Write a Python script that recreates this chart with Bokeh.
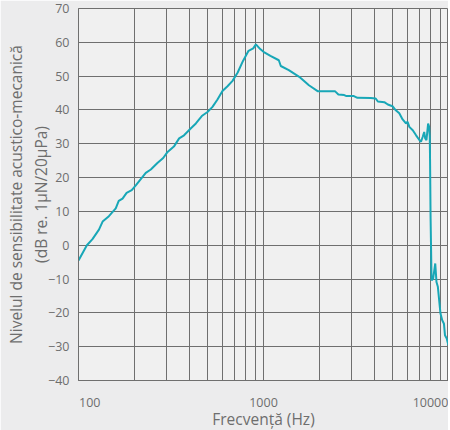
import math
from bokeh.plotting import figure
from bokeh.models import FixedTicker, LinearAxis, Range1d
from bokeh.embed import file_html
from bokeh.resources import INLINE

# ---- data ----
freq_hz = [100, 111, 119, 129, 135, 146, 159, 165, 173, 182, 194, 204, 231, 246, 267, 287,
           303, 329, 350, 372, 404, 431, 464, 498, 530, 564, 600, 639, 680, 724, 775, 830,
           880, 910, 960, 1000, 1090, 1210, 1240, 1370, 1560, 1760, 1970, 2440, 2540, 2730,
           2810, 3080, 3220, 3800, 4040, 4150, 4500, 4700, 4980, 5190, 5420, 5650, 5890,
           6010, 6140, 6410, 6680, 6960, 7100, 7250, 7390, 7480, 7600, 7760, 7860, 7920,
           7950, 8000, 8100, 8260, 8480, 8610, 8760, 9050, 9250, 9450, 9570, 9780, 9990]
level_db = [-4.5, 0.0, 1.8, 4.6, 7.0, 8.6, 10.9, 13.1, 13.8, 15.5, 16.3, 17.7, 21.4, 22.4, 24.3, 25.8,
            27.6, 29.3, 31.6, 32.5, 34.5, 36.0, 38.2, 39.4, 40.9, 43.1, 45.6, 47.0, 48.6, 51.0, 54.5, 57.5,
            58.2, 59.4, 58.0, 57.2, 56.0, 54.7, 53.0, 51.8, 49.8, 47.3, 45.5, 45.5, 44.6, 44.4,
            44.1, 44.1, 43.6, 43.5, 43.4, 42.5, 42.3, 41.6, 41.1, 39.9, 39.0, 37.2, 36.0,
            36.5, 35.0, 34.0, 32.5, 31.1, 30.6, 32.0, 33.5, 31.6, 31.1, 36.0, 35.0, 32.0,
            25.0, 8.4, -10.4, -9.9, -5.4, -10.9, -12.3, -20.2, -22.2, -23.2, -26.6, -27.6, -29.6]

x_ticks = [100, 1000, 10000]
x_tick_labels = ["100", "1000", "10000"]
x_grid_lines = [200, 300, 400, 500, 600, 700, 800, 900,
                1000, 2000, 3000, 4000, 5000, 6000, 7000, 8000, 9000]
y_ticks = [-40, -30, -20, -10, 0, 10, 20, 30, 40, 50, 60, 70]
x_title = "Frecvență (Hz)"
y_title_1 = "Nivelul de sensibilitate acustico-mecanică"
y_title_2 = "(dB re. 1μN/20μPa)"

X0, X1 = 100, 10000
Y0, Y1 = -40, 70
FRAME_W, FRAME_H = 370, 372

TEXT = "#6e6e6e"
GRID = "#6f6f6f"
FONT = "Open Sans"
TITLE_SIZE = "15.5px"
TICK_SIZE = "12.5px"

p = figure(x_axis_type="log", x_range=Range1d(X0, X1), y_range=Range1d(Y0, Y1),
           frame_width=FRAME_W, frame_height=FRAME_H,
           min_border_left=78, min_border_right=0, min_border_top=8, min_border_bottom=46,
           output_backend="svg", toolbar_location=None)

p.background_fill_color = "#f0f0f0"
p.border_fill_color = "#ececed"
p.outline_line_color = GRID
p.outline_line_width = 1

# edge labels of the reference are pulled inside the plot edges: shift them by pixels
px_per_decade = FRAME_W / math.log10(X1 / X0)
label_shift_px = [11, 0, -18]
label_pos = [int(round(t * 10 ** (s / px_per_decade))) for t, s in zip(x_ticks, label_shift_px)]

p.xaxis.ticker = FixedTicker(ticks=label_pos)
p.xaxis.major_label_overrides = {pos: lab for pos, lab in zip(label_pos, x_tick_labels)}
p.xgrid.ticker = FixedTicker(ticks=x_grid_lines)
p.xaxis.major_label_text_font = FONT
p.xaxis.major_label_text_font_size = TICK_SIZE
p.xaxis.major_label_text_color = TEXT
p.xaxis.major_label_standoff = 11
p.xaxis.axis_label = x_title
p.xaxis.axis_label_standoff = -2
p.xaxis.axis_label_text_font = FONT
p.xaxis.axis_label_text_font_size = TITLE_SIZE
p.xaxis.axis_label_text_font_style = "normal"
p.xaxis.axis_label_text_color = TEXT

p.yaxis.ticker = FixedTicker(ticks=y_ticks)
p.yaxis.major_label_text_font = FONT
p.yaxis.major_label_text_font_size = TICK_SIZE
p.yaxis.major_label_text_color = TEXT
p.yaxis.major_label_standoff = 3
p.yaxis.axis_label = y_title_2
p.yaxis.axis_label_standoff = -7
p.yaxis.axis_label_text_font = FONT
p.yaxis.axis_label_text_font_size = TITLE_SIZE
p.yaxis.axis_label_text_font_style = "normal"
p.yaxis.axis_label_text_color = TEXT

# outer line of the y title
outer = LinearAxis(ticker=FixedTicker(ticks=[]), axis_label=y_title_1,
                   axis_label_standoff=1, axis_label_text_font=FONT,
                   axis_label_text_font_size=TITLE_SIZE, axis_label_text_font_style="normal",
                   axis_label_text_color=TEXT, axis_line_color=None,
                   major_tick_line_color=None, minor_tick_line_color=None)
p.add_layout(outer, "left")

for ax in (p.xaxis[0], p.yaxis[0]):
    ax.axis_line_color = GRID
    ax.major_tick_line_color = None
    ax.minor_tick_line_color = None

for g in (p.xgrid, p.ygrid):
    g.grid_line_color = GRID
    g.grid_line_width = 1
    g.grid_line_alpha = 1.0

p.line(freq_hz, level_db, line_color="#18a7b7", line_width=2)

html = file_html(p, INLINE)
html = html.replace("<body>", '<body style="margin:0;background:#ececed;overflow:hidden">', 1)
open("out.html", "w").write(html)
